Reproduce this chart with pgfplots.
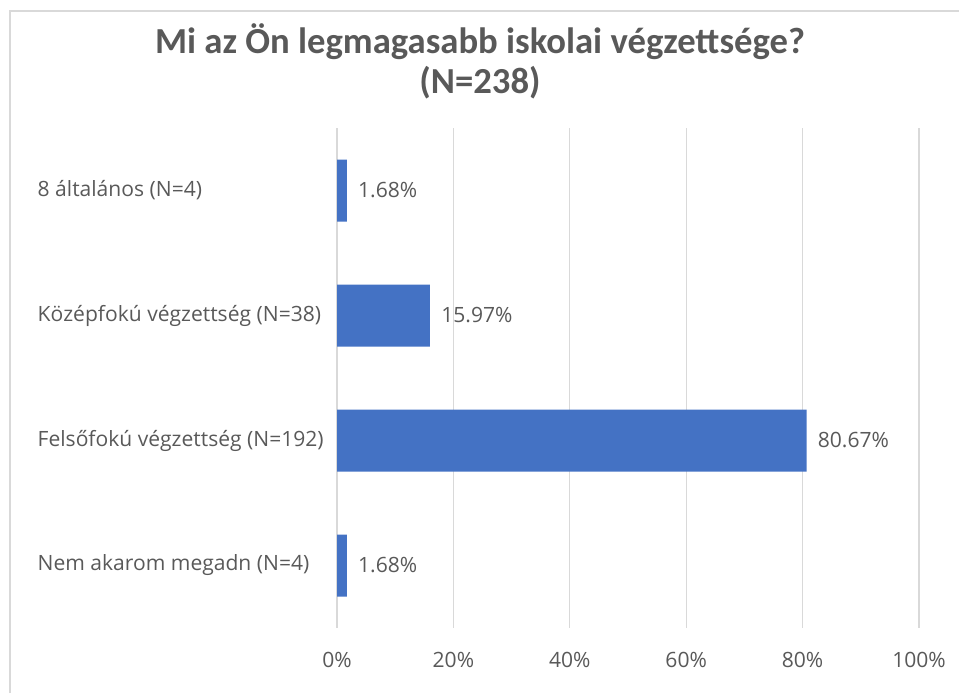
\documentclass[border=0pt]{standalone}
\usepackage{pgfplots}
\pgfplotsset{compat=1.18}
\usepackage{fontspec}
\setmainfont{Open Sans}
\newfontfamily\titlefont{Carlito}
\definecolor{barblue}{HTML}{4472C4}
\definecolor{txtgray}{HTML}{595959}
\definecolor{gridgray}{HTML}{D9D9D9}
\begin{document}
\begin{tikzpicture}
\useasboundingbox (0,0) rectangle (720pt,519.75pt);
\draw[gridgray, line width=1pt] (7.5pt,0) -- (7.5pt,511.5pt) -- (719pt,511.5pt);
\node[text=txtgray, font=\titlefont\bfseries\fontsize{27.5}{30}\selectfont, align=center] at (360pt,474pt) {Mi az Ön legmagasabb iskolai végzettsége?\\(N=238)};
\begin{axis}[
  at={(252.75pt,48.75pt)}, anchor=south west,
  scale only axis, width=436.5pt, height=375pt,
  xbar, bar width=46.5pt,
  xmin=0, xmax=100, ymin=-0.5, ymax=3.5, y dir=reverse,
  axis line style={draw=none},
  xtick={0,20,40,60,80,100},
  xticklabels={0\%,20\%,40\%,60\%,80\%,100\%},
  xmajorgrids, major grid style={gridgray, line width=0.9pt},
  major tick length=0pt,
  ytick={0,1,2,3},
  yticklabels={8 általános (N=4),Középfokú végzettség (N=38),Felsőfokú végzettség (N=192),Nem akarom megadn (N=4)},
  yticklabel style={anchor=west, xshift=-228pt, text=txtgray, font=\fontsize{15.8}{18}\selectfont},
  xticklabel style={text=txtgray, font=\fontsize{15.8}{18}\selectfont, yshift=-15pt},
  /pgf/number format/assume math mode=true,
  nodes near coords={\pgfmathprintnumber[fixed,fixed zerofill,precision=2]{\pgfplotspointmeta}\%},
  nodes near coords style={anchor=west, text=txtgray, font=\fontsize{15.8}{18}\selectfont, xshift=5pt},
  clip=false,
]
\addplot[fill=barblue, draw=none] coordinates {(1.68,0) (15.97,1) (80.67,2) (1.68,3)};
\end{axis}
\end{tikzpicture}
\end{document}
